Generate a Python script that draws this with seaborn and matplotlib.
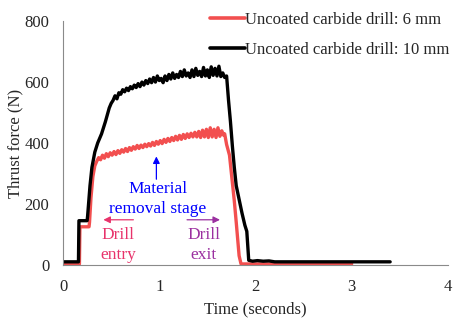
import numpy as np
import pandas as pd
import matplotlib.pyplot as plt
import seaborn as sns

# 6 mm drill (red)
t_6mm = [0, 0.17, 0.175, 0.27, 0.275, 0.29, 0.31, 0.33, 0.35, 0.37, 0.39, 0.41, 0.43,
         0.45, 0.47, 0.49, 0.51, 0.53, 0.55, 0.57, 0.59, 0.61, 0.63, 0.65, 0.67, 0.69,
         0.71, 0.73, 0.75, 0.77, 0.79, 0.81, 0.83, 0.85, 0.87, 0.89, 0.91, 0.93, 0.95,
         0.97, 0.99, 1.01, 1.03, 1.05, 1.07, 1.09, 1.11, 1.13, 1.15, 1.17, 1.19, 1.21,
         1.23, 1.25, 1.27, 1.29, 1.31, 1.33, 1.35, 1.37, 1.39, 1.41, 1.43, 1.45, 1.47,
         1.49, 1.51, 1.53, 1.55, 1.57, 1.59, 1.61, 1.63, 1.65, 1.67, 1.68, 1.70, 1.73,
         1.75, 1.78, 1.80, 1.83, 1.85, 3.0]
f_6mm = [3, 3, 125, 125, 140, 220, 290, 325, 340, 352, 345, 360, 350,
         365, 355, 368, 360, 372, 362, 375, 366, 378, 370, 382, 372, 385,
         376, 388, 380, 392, 382, 393, 385, 396, 388, 398, 390, 402, 392,
         405, 396, 408, 398, 412, 402, 415, 405, 418, 408, 422, 410, 425,
         412, 428, 415, 430, 418, 432, 420, 435, 420, 438, 418, 442, 420,
         445, 418, 450, 420, 445, 418, 450, 422, 440, 425, 430, 395, 360,
         300, 210, 140, 30, 3, 3]

# 10 mm drill (black)
t_10mm = [0, 0.16, 0.165, 0.25, 0.255, 0.28, 0.30, 0.33, 0.36, 0.40, 0.44, 0.48,
          0.50, 0.52, 0.54, 0.56, 0.58, 0.60, 0.62, 0.64, 0.66, 0.68, 0.70, 0.72,
          0.74, 0.76, 0.78, 0.80, 0.82, 0.84, 0.86, 0.88, 0.90, 0.92, 0.94, 0.96,
          0.98, 1.00, 1.02, 1.04, 1.06, 1.08, 1.10, 1.12, 1.14, 1.16, 1.18, 1.20,
          1.22, 1.24, 1.26, 1.28, 1.30, 1.32, 1.34, 1.36, 1.38, 1.40, 1.42, 1.44,
          1.46, 1.48, 1.50, 1.52, 1.54, 1.56, 1.58, 1.60, 1.62, 1.64, 1.66, 1.68,
          1.70, 1.72, 1.74, 1.76, 1.78, 1.80, 1.83, 1.86, 1.89, 1.91, 1.93, 1.97,
          2.02, 2.08, 2.14, 2.2, 3.4]
f_10mm = [10, 10, 145, 145, 160, 260, 320, 370, 400, 430, 470, 515,
          530, 540, 555, 545, 565, 560, 575, 568, 580, 572, 585, 578,
          590, 582, 595, 585, 600, 590, 605, 595, 610, 598, 615, 600,
          620, 605, 612, 598, 620, 605, 625, 610, 630, 612, 625, 615,
          635, 618, 640, 620, 630, 615, 640, 618, 645, 622, 635, 618,
          648, 620, 640, 615, 650, 622, 645, 620, 652, 618, 630, 615,
          620, 540, 470, 390, 320, 260, 215, 170, 130, 110, 15, 12,
          14, 12, 13, 10, 10]

label_6 = "Uncoated carbide drill: 6 mm"
label_10 = "Uncoated carbide drill: 10 mm"

df = pd.concat([
    pd.DataFrame({"time": t_6mm, "force": f_6mm, "drill": label_6}),
    pd.DataFrame({"time": t_10mm, "force": f_10mm, "drill": label_10}),
])

sns.set_style("white")
plt.rcParams["font.family"] = ["Liberation Serif", "DejaVu Serif"]

fig = plt.figure(figsize=(4.57, 3.25), dpi=100)
ax = fig.add_axes([0.138, 0.185, 0.842, 0.75])

sns.lineplot(data=df, x="time", y="force", hue="drill", estimator=None, sort=False,
             palette={label_6: "#f24f4f", label_10: "black"}, linewidth=2.4, ax=ax)

ax.set_xlim(0, 4)
ax.set_ylim(0, 800)
ax.set_xticks([0, 1, 2, 3, 4])
ax.set_yticks([0, 200, 400, 600, 800])
ax.tick_params(length=0, labelsize=12, pad=10)
ax.set_xlabel("Time (seconds)", fontsize=12, labelpad=5)
ax.set_ylabel("Thrust force (N)", fontsize=12, labelpad=1)
for s in ["top", "right"]:
    ax.spines[s].set_visible(False)
for s in ["left", "bottom"]:
    ax.spines[s].set_color("#8a8a8a")
    ax.spines[s].set_linewidth(0.8)

leg = ax.legend(loc="upper left", bbox_to_anchor=(198 / 457, 1.0), bbox_transform=fig.transFigure,
                frameon=False, fontsize=12, handlelength=2.1, handletextpad=0.0,
                labelspacing=0.85, borderaxespad=0.3)
for line in leg.get_lines():
    line.set_linewidth(2.6)

# annotations
ann_size = 12.5
ax.annotate("", xy=(0.97, 365), xytext=(0.97, 272),
            arrowprops=dict(arrowstyle="-|>", color="blue", lw=0.9, mutation_scale=10))
ax.text(0.985, 250, "Material", color="blue", ha="center", va="center", fontsize=ann_size)
ax.text(0.985, 183, "removal stage", color="blue", ha="center", va="center", fontsize=ann_size)

ax.annotate("", xy=(0.39, 148), xytext=(0.76, 148),
            arrowprops=dict(arrowstyle="-|>", color="#e8336b", lw=0.9, mutation_scale=10))
ax.text(0.57, 98, "Drill", color="#e8336b", ha="center", va="center", fontsize=ann_size)
ax.text(0.57, 33, "entry", color="#e8336b", ha="center", va="center", fontsize=ann_size)

ax.annotate("", xy=(1.66, 148), xytext=(1.26, 148),
            arrowprops=dict(arrowstyle="-|>", color="#9b30a0", lw=0.9, mutation_scale=10))
ax.text(1.46, 98, "Drill", color="#9b30a0", ha="center", va="center", fontsize=ann_size)
ax.text(1.46, 33, "exit", color="#9b30a0", ha="center", va="center", fontsize=ann_size)

fig.savefig("out.png", dpi=100)
